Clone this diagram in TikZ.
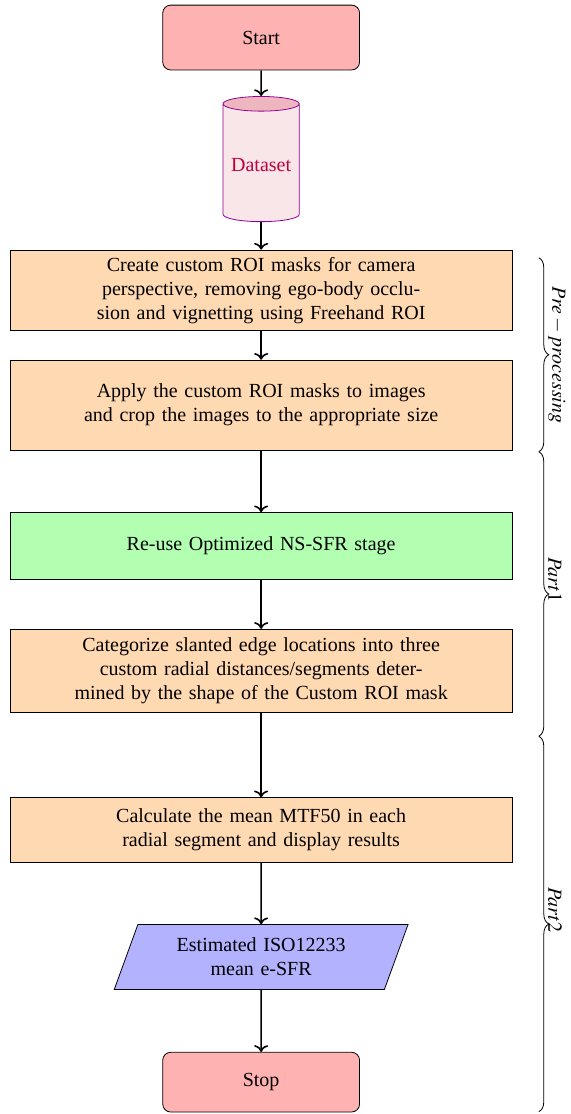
\documentclass[tikz,border=0pt]{standalone}
\usepackage{mathptmx}
\usepackage{fontspec}
\setmainfont{Liberation Serif}
\usetikzlibrary{arrows.meta,shapes.geometric,decorations.pathreplacing,positioning}

\begin{document}
\begin{tikzpicture}[
  term/.style={rectangle, rounded corners, draw=black, fill=red!30, minimum width=3.46cm, minimum height=1.14cm},
  db/.style={cylinder, shape border rotate=90, aspect=0.2, draw=violet!85!magenta, cylinder uses custom fill, cylinder body fill=magenta!25!purple!10, cylinder end fill=magenta!25!purple!30, text=purple, minimum width=1.34cm, minimum height=2.2cm},
  proc/.style={rectangle, draw=black, fill=orange!30, text width=6.6cm, align=center, minimum width=8.82cm},
  stage/.style={proc, fill=green!30},
  io/.style={trapezium, trapezium left angle=70, trapezium right angle=110, draw=black, fill=blue!30, text width=3.2cm, align=center, minimum height=1.14cm},
  flow/.style={->, thick},
  part/.style={decorate, decoration={brace, amplitude=5pt}},
  partlabel/.style={midway, xshift=3.5pt, inner sep=1pt, rotate=-90, anchor=south}
]
  % Page size of the figure
  \useasboundingbox (0,0) rectangle (10.02cm,-19.58cm);
  \def\cx{4.59cm}
  \def\bx{9.47cm}

  % Flow chart nodes
  \node[term] (start) at (\cx,-0.66) {Start};
  \node[db] (dataset) at (\cx,-2.90) {Dataset};
  \node[proc, minimum height=1.41cm] (masks) at (\cx,-5.10) {Create custom ROI masks for camera perspective, removing ego-body occlusion and vignetting using Freehand ROI};
  \node[proc, minimum height=1.58cm] (apply) at (\cx,-7.12) {Apply the custom ROI masks to images and crop the images to the appropriate size};
  \node[stage, minimum height=1.18cm] (nssfr) at (\cx,-9.60) {Re-use Optimized NS-SFR stage};
  \node[proc, minimum height=1.46cm] (segments) at (\cx,-11.79) {Categorize slanted edge locations into three\\custom radial distances/segments deter-\\mined by the shape of the Custom ROI mask};
  \node[proc, minimum height=1.14cm] (mtf) at (\cx,-14.59) {Calculate the mean MTF50 in each radial segment and display results};
  \node[io] (esfr) at (\cx,-16.82) {Estimated ISO12233 mean e-SFR};
  \node[term, minimum height=1.05cm] (stop) at (\cx,-19.02) {Stop};

  % Arrows
  \draw[flow] (start) -- (dataset);
  \draw[flow] (dataset) -- (masks);
  \draw[flow] (masks) -- (apply);
  \draw[flow] (apply) -- (nssfr);
  \draw[flow] (nssfr) -- (segments);
  \draw[flow] (segments) -- (mtf);
  \draw[flow] (mtf) -- (esfr);
  \draw[flow] (esfr) -- (stop);

  % Braces for the three parts
  \coordinate (pre top) at (\bx,-4.53);
  \coordinate (pre end) at (\bx,-7.94);
  \coordinate (one end) at (\bx,-12.94);
  \coordinate (two end) at (\bx,-19.54);
  \draw[part] (pre top) -- (pre end) node[partlabel] {$Pre-processing$};
  \draw[part] (pre end) -- (one end) node[yshift=0.25cm, partlabel] {$Part1$};
  \draw[part] (one end) -- (two end) node[yshift=0.25cm, partlabel] {$Part2$};
\end{tikzpicture}
\end{document}
